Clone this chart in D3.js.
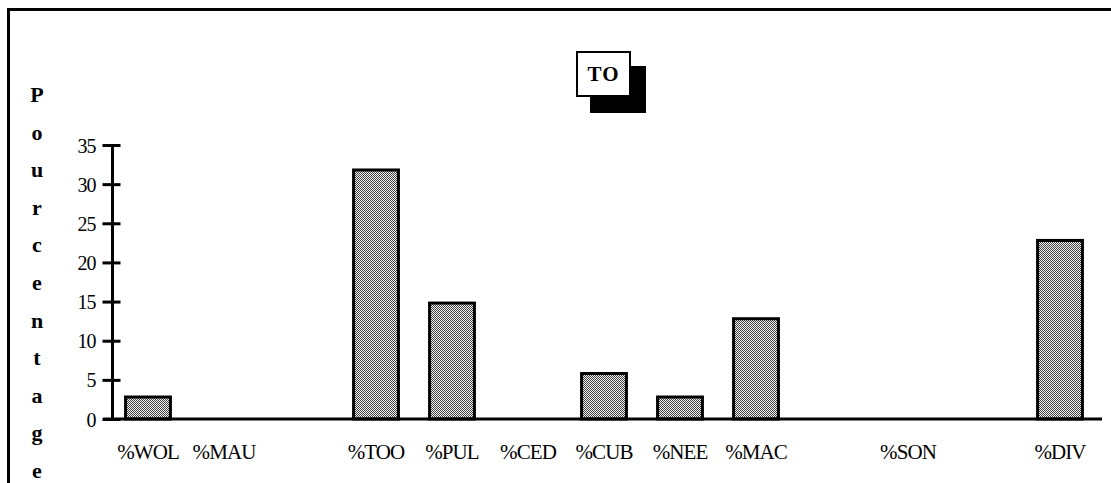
<!DOCTYPE html>
<html>
<head>
<meta charset="utf-8">
<script src="https://cdn.jsdelivr.net/npm/d3@7"></script>
<style>
  html, body { margin: 0; padding: 0; background: #fff; }
  svg { display: block; }
  text { font-family: "Liberation Serif", "DejaVu Serif", serif; fill: #000; }
</style>
</head>
<body>
<svg id="chart" width="1111" height="483"></svg>
<script>
// ---- data ----
const categories = ["%WOL", "%MAU", "", "%TOO", "%PUL", "%CED", "%CUB", "%NEE", "%MAC", "", "%SON", "", "%DIV"];
const values     = [3, 0, null, 32, 15, 0, 6, 3, 13, null, 0, null, 23];
const yTicks     = [0, 5, 10, 15, 20, 25, 30, 35];
const chartTitle = "TO";
const yTitle     = "Pourcentage";

const svg = d3.select("#chart");

// pattern fill
const defs = svg.append("defs");
const pat = defs.append("pattern").attr("id", "dots")
  .attr("width", 2).attr("height", 2).attr("patternUnits", "userSpaceOnUse");
pat.append("rect").attr("width", 2).attr("height", 2).attr("fill", "#f2f2f2");
pat.append("rect").attr("width", 1).attr("height", 1).attr("fill", "#444");
pat.append("rect").attr("x", 1).attr("y", 1).attr("width", 1).attr("height", 1).attr("fill", "#444");

// outer frame (right and bottom fall outside the view)
svg.append("rect")
  .attr("x", 8.5).attr("y", 9.5).attr("width", 1200).attr("height", 600)
  .attr("fill", "none").attr("stroke", "#000").attr("stroke-width", 3);

// scales
const x = d3.scaleBand().domain(d3.range(categories.length)).range([110, 1098]).paddingInner(0.37).paddingOuter(0.185);
const y = d3.scaleLinear().domain([0, 35]).range([419, 145]);

// title box with shadow
const tb = { x: 576, y: 51, w: 55, h: 46 };
svg.append("rect").attr("x", tb.x + 14).attr("y", tb.y + 15).attr("width", tb.w + 1).attr("height", tb.h + 1).attr("fill", "#000");
svg.append("rect").attr("x", tb.x + 1).attr("y", tb.y + 1).attr("width", tb.w - 2).attr("height", tb.h - 2)
  .attr("fill", "#fff").attr("stroke", "#000").attr("stroke-width", 2);
svg.append("text").attr("x", tb.x + tb.w / 2).attr("y", tb.y + tb.h / 2 + 7)
  .attr("text-anchor", "middle").attr("font-size", 21).attr("font-weight", "bold")
  .attr("letter-spacing", 1).text(chartTitle);

// vertical y title, letter by letter
svg.append("g").selectAll("text").data(yTitle.split("")).join("text")
  .attr("x", 37).attr("y", (d, i) => 102 + i * 37.6)
  .attr("text-anchor", "middle").attr("font-size", 22).attr("font-weight", "bold")
  .text(d => d);

// bars
svg.append("g").selectAll("rect")
  .data(values.map((v, i) => ({ v, i })).filter(d => d.v))
  .join("rect")
  .attr("x", d => x(d.i) + 1.5)
  .attr("y", d => y(d.v) + 1.5)
  .attr("width", x.bandwidth() - 3)
  .attr("height", d => y(0) - y(d.v) - 1.5)
  .attr("fill", "url(#dots)")
  .attr("stroke", "#000").attr("stroke-width", 3);

// x axis baseline
svg.append("line").attr("x1", 103).attr("x2", 1102).attr("y1", y(0)).attr("y2", y(0))
  .attr("stroke", "#000").attr("stroke-width", 3);

// x labels via axis
const xAxis = svg.append("g").attr("transform", `translate(0,${y(0)})`)
  .call(d3.axisBottom(x).tickSize(0).tickFormat(i => categories[i]));
xAxis.select(".domain").remove();
xAxis.selectAll("text").attr("dy", 0).attr("y", 40)
  .attr("font-size", 21).style("font-family", "'Liberation Serif', serif").attr("letter-spacing", -0.9);

// y axis
const yAxis = svg.append("g").attr("transform", "translate(112.5,0)")
  .call(d3.axisLeft(y).tickValues(yTicks).tickSizeInner(10).tickSizeOuter(0).tickPadding(7));
yAxis.select(".domain").remove();
yAxis.append("line").attr("x1", 0).attr("x2", 0).attr("y1", y(35) - 1).attr("y2", y(0))
  .attr("stroke", "#000").attr("stroke-width", 3);
yAxis.selectAll(".tick line").attr("x1", 8).attr("x2", -10).attr("stroke", "#000").attr("stroke-width", 3);
yAxis.selectAll(".tick text").attr("font-size", 20).attr("dy", "0.35em")
  .style("font-family", "'Liberation Serif', serif").attr("letter-spacing", -1);
</script>
</body>
</html>
